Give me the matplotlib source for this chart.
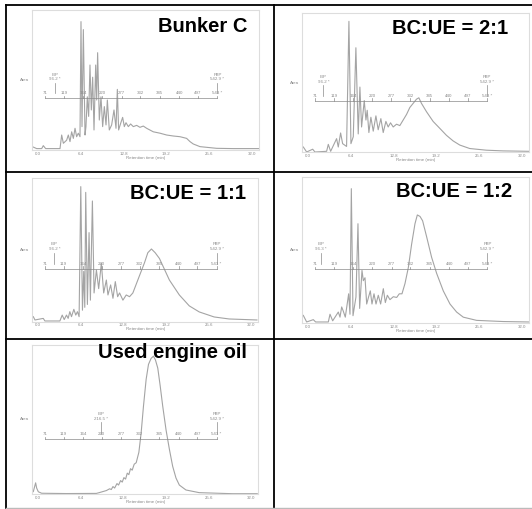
import matplotlib.pyplot as plt

plt.rcParams['font.family'] = ['Liberation Sans', 'DejaVu Sans']

# chromatogram traces: retention time (min) and relative response (% of panel height)
bunker_t = [-0.8, -0.15, 0.6, 0.84, 1.19, 3.33, 3.58, 3.83, 4.32, 4.57, 4.82, 5.07, 5.32, 5.57,
            5.81, 6.06, 6.31, 6.46, 6.61, 6.81, 7.06, 7.2, 7.4, 7.6, 7.8, 8.0, 8.2, 8.4, 8.65,
            8.8, 8.94, 9.19, 9.44, 9.69, 9.94, 10.19, 10.39, 10.68, 11.03, 11.38, 11.68, 11.88,
            12.07, 12.37, 12.67, 12.92, 13.17, 13.52, 13.86, 14.26, 14.76, 15.25, 15.75, 16.25,
            17.24, 18.24, 19.23, 20.22, 21.22, 22.21, 22.71, 23.2, 24.2, 26.68, 29.17, 33.0]
bunker_v = [2.4, 1, 1, 3.1, 1, 1, 10.7, 4.8, 7, 10.7, 6, 13, 8.3, 15.5,
            9.5, 12, 9.5, 91.7, 16.7, 86, 10.7, 16.7, 38, 24, 60.7, 28.6, 52, 14.3, 60.7,
            35.7, 69.5, 21.4, 38, 16.7, 31, 17.9, 35.7, 14.3, 17.9, 28.6, 15.5, 43.3,
            14.3, 19, 23.3, 16.7, 19.5, 16.7, 18.6, 16.7, 17.6, 16.2, 17.1, 15.5,
            13, 12, 10.7, 10, 9.5, 8.3, 6, 4.3, 2.4, 1.2, 1, 1]

mix21_t = [-0.65, -0.15, 0.75, 1.09, 2.83, 3.08, 3.43, 4.32, 4.57, 4.92, 5.22, 5.81, 6.16, 6.46,
           6.81, 7.2, 7.55, 7.8, 8.05, 8.45, 8.7, 8.89, 9.14, 9.44, 9.79, 10.19, 10.53, 10.93,
           11.28, 11.68, 12.02, 12.37, 12.77, 13.27, 13.76, 14.26, 14.76, 15.25, 15.75, 16.25,
           16.6, 16.99, 17.74, 18.73, 19.73, 20.72, 21.71, 22.71, 24.2, 26.68, 29.17, 33.0]
mix21_v = [3.6, 0, 2, 0, 0.5, 5.5, 0.5, 9.6, 3.6, 13.7, 6, 4, 94, 6,
           11, 75, 13, 46.7, 18, 37, 23, 30, 14, 25, 15, 26, 16, 24,
           14, 22, 18, 21, 18, 20, 19, 23, 27, 32, 35, 38,
           39, 35, 29, 22, 17, 12, 8, 5, 2.5, 1.3, 0.8, 0.5]

mix11_t = [-0.65, -0.4, 0.84, 1.09, 3.33, 3.68, 3.98, 4.32, 4.57, 4.82, 5.07, 5.42, 5.71, 5.96,
           6.21, 6.46, 6.71, 6.9, 7.06, 7.2, 7.45, 7.7, 7.9, 8.2, 8.45, 8.8, 9.14, 9.54, 9.89,
           10.29, 10.53, 10.93, 11.28, 11.63, 11.98, 12.27, 12.77, 13.27, 13.76, 14.26, 15.25,
           16.0, 16.5, 17.04, 17.6, 18.24, 19.73, 21.22, 22.71, 24.2, 26.43, 28.67, 32.84]
mix11_v = [3.5, 1.2, 2.3, 0.5, 0.5, 4.6, 1.5, 4.6, 2.3, 7, 3.5, 8.6, 4.6, 7,
           3.5, 94, 8, 35, 10, 90, 12, 62, 15, 84, 20, 36, 23, 40.7, 20,
           29, 18.6, 25.6, 16.3, 27.9, 17.4, 20, 15, 18.6, 17.4, 20, 32,
           41, 48, 50.6, 48, 44, 29, 18.6, 11, 6.8, 3.3, 1.9, 1.2]

mix12_t = [-0.65, -0.15, 0.84, 1.19, 3.08, 3.33, 3.73, 4.57, 4.82, 5.07, 5.32, 5.61, 6.11, 6.31,
           6.51, 6.76, 7.2, 7.5, 7.75, 8.1, 8.3, 8.55, 8.8, 9.09, 9.34, 9.59, 9.89, 10.19,
           10.53, 10.88, 11.28, 11.58, 11.88, 12.27, 12.77, 13.27, 13.66, 14.06, 14.51, 15.01,
           15.5, 16.0, 16.35, 16.75, 17.14, 17.74, 18.48, 19.23, 20.22, 21.22, 22.21, 23.2,
           25.19, 29.17, 33.0]
mix12_v = [5.2, 0.7, 2.3, 0.7, 0.7, 6, 1.5, 7.5, 4, 11, 8, 4, 20, 6,
           92, 5, 17.8, 68, 10, 36, 29, 31, 13, 18, 22, 13, 20, 13,
           19, 13, 23.5, 14, 19, 16, 18, 17.5, 20, 20, 27, 38,
           54, 68, 74, 73, 70, 59, 45, 34, 22, 13, 7.5, 4,
           1.8, 1, 0.7]

ueo_t = [-0.65, -0.45, -0.3, -0.15, 0.1, 0.6, 4.32, 8.8, 9.29, 10.29, 10.78, 11.03, 11.28, 11.53,
         11.88, 12.12, 12.42, 12.67, 12.92, 13.17, 13.42, 13.66, 13.91, 14.16, 14.46, 14.76,
         15.16, 15.5, 15.85, 16.25, 16.6, 16.99, 17.34, 17.64, 17.99, 18.34, 18.73, 19.23,
         19.73, 20.22, 20.72, 21.22, 22.21, 24.2, 29.17, 32.89]
ueo_v = [1.6, 5, 7.5, 4, 1.5, 0.5, 0.3, 0.4, 1, 2.3, 3.5, 3, 5, 4,
         7, 6, 9, 8, 11, 10, 14, 13, 17, 16, 20, 21,
         28, 41, 59, 77, 87, 91, 92.5, 90, 84.5, 73, 59, 43,
         30, 18.6, 10.7, 6, 2.7, 0.9, 0.2, 0.2]

titles = ['Bunker C', 'BC:UE = 2:1', 'BC:UE = 1:1', 'BC:UE = 1:2', 'Used engine oil']
ibp_labels = ['96.2 *', '96.2 *', '96.2 *', '96.3 *', '216.5 *']
ibp_times = [2.58, 2.34, 2.5, 2.0, 9.54]
fbp_label = '542.9 *'
bp_labels = ['71', '119', '164', '220', '277', '332', '385', '440', '497', '543 *']
bp_times = [1.1, 3.9, 6.8, 9.6, 12.5, 15.3, 18.2, 21.1, 23.9, 26.8]
x_ticks = [0.0, 6.4, 12.8, 19.2, 25.6, 32.0]

traces = [(bunker_t, bunker_v), (mix21_t, mix21_v), (mix11_t, mix11_v),
          (mix12_t, mix12_v), (ueo_t, ueo_v)]

# panel boxes in pixels (x0, y0, x1, y1), title right edge and height in axes fraction
boxes = [(32.3, 10, 259, 150), (302.3, 13, 528.7, 152), (32.3, 178, 258, 321.7),
         (302.3, 177, 529, 323), (32.3, 345, 258, 494)]
title_pos = [(0.95, 0.885), (0.91, 0.885), (0.945, 0.89), (0.925, 0.9), (0.95, 0.95)]

W, H = 532, 509
fig = plt.figure(figsize=(W / 100, H / 100), dpi=100)

# table grid behind the panels
bg = fig.add_axes([0, 0, 1, 1])
bg.set_xlim(0, W)
bg.set_ylim(H, 0)
bg.axis('off')
bg.plot([6, 6], [5, 508], color='black', lw=1.3)
bg.plot([274, 274], [5, 508], color='black', lw=1.3)
for y in [5, 172, 339]:
    bg.plot([6, W], [y, y], color='black', lw=1.3)
bg.plot([6, W], [507.5, 507.5], color='#bbbbbb', lw=1)

gray = '#8a8a8a'
small = 3.2

for i, (t, v) in enumerate(traces):
    x0, y0, x1, y1 = boxes[i]
    ax = fig.add_axes([x0 / W, 1 - y1 / H, (x1 - x0) / W, (y1 - y0) / H])
    ax.plot(t, v, color='#a4a4a4', lw=0.8)
    ax.set_xlim(-0.8, 33.0)
    ax.set_ylim(0, 100)
    ax.set_yticks([])
    ax.set_xticks(x_ticks)
    ax.set_xticklabels(['%.1f' % x for x in x_ticks])
    ax.tick_params(axis='x', length=0, pad=1.2, labelsize=small, labelcolor=gray)
    ax.set_xlabel('Retention time (min)', fontsize=small, color=gray, labelpad=0)
    for s in ax.spines.values():
        s.set_color('#dddddd')
        s.set_linewidth(0.8)

    # boiling point bracket
    ax.plot([bp_times[0], bp_times[-1]], [37, 37], color=gray, lw=0.5)
    for bt, bl in zip(bp_times, bp_labels):
        ax.plot([bt, bt], [37, 38.5], color=gray, lw=0.5)
        ax.text(bt, 39, bl, fontsize=small, color=gray, ha='center', va='bottom')
    for xt, lab in [(ibp_times[i], ibp_labels[i]), (bp_times[-1], fbp_label)]:
        ax.plot([xt, xt], [40.5, 48], color=gray, lw=0.5)
        ax.text(xt, 49, lab, fontsize=small, color=gray, ha='center', va='bottom')
        ax.text(xt, 52.5, 'IBP' if xt != bp_times[-1] else 'FBP',
                fontsize=small, color=gray, ha='center', va='bottom')
    ax.text(-0.015, 0.5, 'Area', transform=ax.transAxes, fontsize=small, color=gray,
            ha='right', va='center')

    tx, ty = title_pos[i]
    ax.text(tx, ty, titles[i], transform=ax.transAxes, fontsize=14.5, fontweight='bold',
            ha='right', va='center', color='black')

fig.savefig('out.png', dpi=100)
